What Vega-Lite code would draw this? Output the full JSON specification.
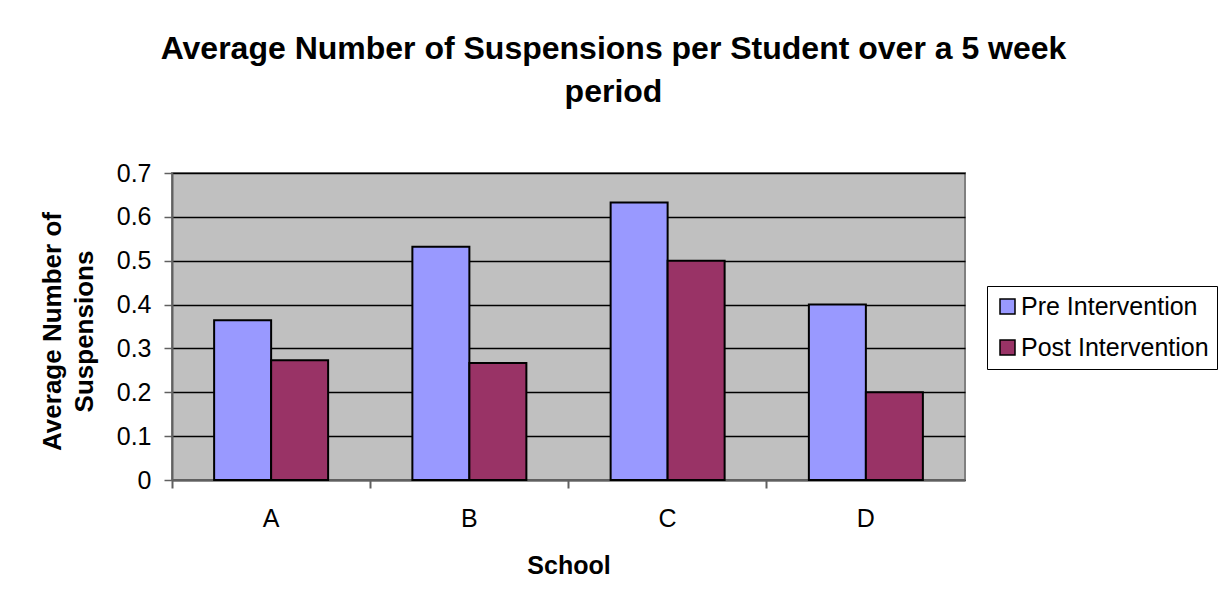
{
  "$schema": "https://vega.github.io/schema/vega-lite/v6.json",
  "autosize": {"type": "none"},
  "width": 793,
  "height": 307,
  "padding": {"left": 172, "top": 173, "right": 253, "bottom": 127},
  "background": "white",
  "title": {
    "text": ["Average Number of Suspensions per Student over a 5 week", "period"],
    "font": "Liberation Sans",
    "fontSize": 32,
    "fontWeight": "bold",
    "color": "black",
    "lineHeight": 43,
    "anchor": "middle",
    "frame": "group",
    "dx": 45,
    "offset": 52
  },
  "data": {
    "values": [
      {"school": "A", "period": "Pre Intervention", "value": 0.364},
      {"school": "A", "period": "Post Intervention", "value": 0.273},
      {"school": "B", "period": "Pre Intervention", "value": 0.532},
      {"school": "B", "period": "Post Intervention", "value": 0.267},
      {"school": "C", "period": "Pre Intervention", "value": 0.633},
      {"school": "C", "period": "Post Intervention", "value": 0.5},
      {"school": "D", "period": "Pre Intervention", "value": 0.4},
      {"school": "D", "period": "Post Intervention", "value": 0.2}
    ]
  },
  "mark": {"type": "bar", "stroke": "black", "strokeWidth": 2},
  "encoding": {
    "x": {
      "field": "school",
      "type": "nominal",
      "scale": {"paddingInner": 0.425, "paddingOuter": 0.2125},
      "axis": {
        "title": "School",
        "labelAngle": 0,
        "bandPosition": -0.3684,
        "labelFont": "Liberation Sans",
        "labelFontSize": 25,
        "labelColor": "black",
        "labelPadding": 18,
        "tickSize": 8,
        "tickColor": "#606060",
        "tickWidth": 2,
        "domainColor": "#606060",
        "domainWidth": 2,
        "titleFont": "Liberation Sans",
        "titleFontSize": 25,
        "titleFontWeight": "bold",
        "titleColor": "black",
        "titlePadding": 22,
        "grid": false
      }
    },
    "xOffset": {
      "field": "period",
      "type": "nominal",
      "sort": ["Pre Intervention", "Post Intervention"],
      "scale": {"paddingInner": 0, "paddingOuter": 0}
    },
    "y": {
      "field": "value",
      "type": "quantitative",
      "scale": {"domain": [0, 0.7], "nice": false},
      "axis": {
        "title": ["Average Number of", "Suspensions"],
        "values": [0, 0.1, 0.2, 0.3, 0.4, 0.5, 0.6, 0.7],
        "format": "~g",
        "labelFont": "Liberation Sans",
        "labelFontSize": 25,
        "labelColor": "black",
        "labelPadding": 13,
        "tickSize": 8,
        "tickColor": "#606060",
        "tickWidth": 1.5,
        "domainColor": "#606060",
        "domainWidth": 2,
        "grid": true,
        "gridColor": "black",
        "gridWidth": 1.5,
        "titleFont": "Liberation Sans",
        "titleFontSize": 26,
        "titleFontWeight": "bold",
        "titleColor": "black",
        "titlePadding": 19,
        "titleY": 158,
        "titleLineHeight": 32
      }
    },
    "color": {
      "field": "period",
      "type": "nominal",
      "scale": {
        "domain": ["Pre Intervention", "Post Intervention"],
        "range": ["#9999FF", "#993366"]
      },
      "legend": {
        "title": null,
        "orient": "none",
        "legendX": 815,
        "legendY": 113,
        "strokeColor": "black",
        "fillColor": "white",
        "padding": 8,
        "symbolType": "square",
        "symbolSize": 225,
        "symbolStrokeColor": "black",
        "symbolStrokeWidth": 1.5,
        "labelFont": "Liberation Sans",
        "labelFontSize": 25,
        "labelColor": "black",
        "labelOffset": 1,
        "labelLimit": 400,
        "rowPadding": 15
      }
    }
  },
  "config": {
    "view": {"fill": "#C0C0C0", "stroke": "#808080", "strokeWidth": 2}
  }
}
